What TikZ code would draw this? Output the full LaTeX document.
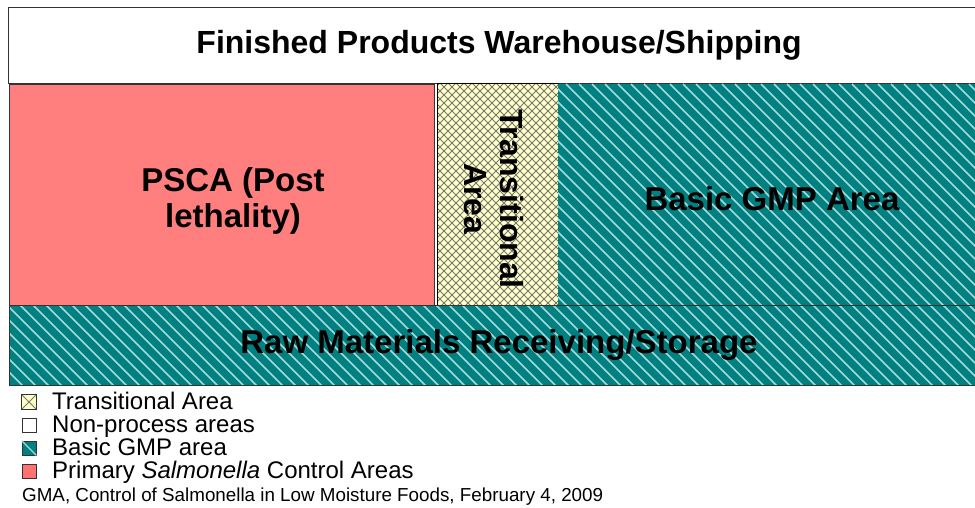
\documentclass[tikz,border=0pt]{standalone}
\usepackage{fontspec}
\setmainfont{Liberation Sans}
\usetikzlibrary{positioning}

\definecolor{pscared}{HTML}{FF7F7F}
\definecolor{gmpteal}{HTML}{008080}
\definecolor{gmpstripe}{HTML}{A4DADA}
\definecolor{transyellow}{HTML}{FFFFCC}
\definecolor{hatchgray}{HTML}{78786A}
\definecolor{edgegray}{HTML}{333333}

% teal area with light diagonal stripes: corners (#1,#2) and (#3,#4)
\newcommand{\gmparea}[4]{
  \begin{scope}
    \clip (#1,#2) rectangle (#3,#4);
    \fill[gmpteal] (#1,#2) rectangle (#3,#4);
    \foreach \s in {-240,-227,...,990}
      \draw[gmpstripe,line width=1.5pt] (\s,#2) -- ++(240,240);
  \end{scope}
}
% yellow area with grey cross hatching
\newcommand{\hatcharea}[4]{
  \begin{scope}
    \clip (#1,#2) rectangle (#3,#4);
    \fill[transyellow] (#1,#2) rectangle (#3,#4);
    \foreach \s in {200,208,...,800} {
      \draw[hatchgray,line width=0.9pt] (\s,#2) -- ++(240,240);
      \draw[hatchgray,line width=0.9pt] (\s,#2) -- ++(-240,240);
    }
  \end{scope}
}

\begin{document}
\begin{tikzpicture}[x=1pt,y=-1pt,
  bigtext/.style={font=\bfseries\fontsize{33}{36}\selectfont,align=center},
  keytext/.style={font=\fontsize{24}{26}\selectfont,anchor=west,inner sep=0pt,
    text height=16pt,text depth=4pt},
  keybox/.style={draw=edgegray,line width=0.6pt,minimum size=14pt,inner sep=0pt}]
  \useasboundingbox (0,0) rectangle (975,508);

  % zones of the plant
  \draw[edgegray,fill=white,line width=1pt] (8,8) rectangle (978,84);
  \fill[pscared] (9,84) rectangle (434,305);
  \draw[edgegray,line width=0.8pt] (9,84) -- (434,84) -- (434,305);
  \hatcharea{437}{83}{558}{305}
  \draw[black,line width=0.8pt] (437,83) rectangle (558,305);
  \gmparea{558}{84}{978}{305}
  \gmparea{9}{305}{978}{385}
  \draw[edgegray,line width=1pt] (9,305) -- (978,305);
  \draw[edgegray,line width=1pt] (9,84) -- (9,385) -- (978,385);

  \node[bigtext,font=\bfseries\fontsize{32}{36}\selectfont] (shipping) at (499,45) {Finished Products Warehouse/Shipping};
  \node[bigtext] (psca) at (233,201) {PSCA (Post\\lethality)};
  \node[bigtext,font=\bfseries\fontsize{32}{36}\selectfont,rotate=-90] (transition) at (494,199) {Transitional\\Area};
  \node[bigtext] (gmp) at (772,199) {Basic GMP Area};
  \node[bigtext] (raw) at (499,345) {Raw Materials Receiving/Storage};

  % key
  \node[keybox] (keytrans) at (29,402) {};
  \begin{scope}
    \clip (keytrans.north west) rectangle (keytrans.south east);
    \fill[transyellow] (keytrans.north west) rectangle (keytrans.south east);
    \draw[hatchgray,line width=0.8pt] (keytrans.north west) -- (keytrans.south east)
      (keytrans.south west) -- (keytrans.north east);
  \end{scope}
  \draw[edgegray,line width=0.6pt] (keytrans.north west) rectangle (keytrans.south east);
  \node[keybox,fill=white] (keynon) at (29,425) {};
  \node[keybox,fill=gmpteal] (keygmp) at (29,448) {};
  \draw[gmpstripe,line width=1.4pt] (keygmp.north west) -- (keygmp.south east);
  \node[keybox,fill=pscared!90!red] (keypsca) at (29,471) {};

  \node[keytext] (lbltrans) at (52,403) {Transitional Area};
  \node[keytext] (lblnon) at (52,426) {Non-process areas};
  \node[keytext] (lblgmp) at (52,449) {Basic GMP area};
  \node[keytext] (lblpsca) at (52,472) {Primary \textit{Salmonella} Control Areas};
  \node[font=\fontsize{18.8}{21}\selectfont,anchor=west,inner sep=0pt] (source)
    at (22,497) {GMA, Control of Salmonella in Low Moisture Foods, February 4, 2009};
\end{tikzpicture}
\end{document}
